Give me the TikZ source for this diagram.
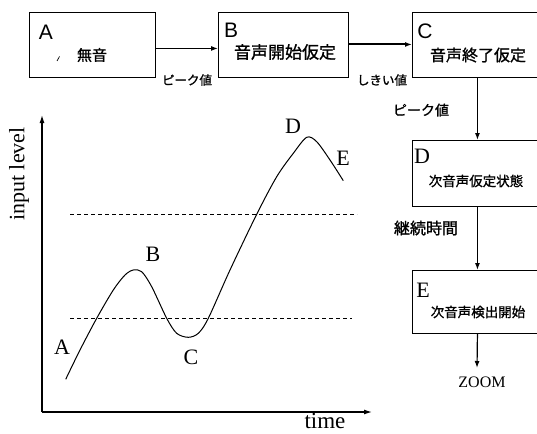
\documentclass[tikz,border=0pt]{standalone}
\usepackage{fontspec}
\setmainfont{Liberation Serif}
\newfontfamily\jp[FakeBold=1.2]{Noto Sans CJK JP}
\newfontfamily\hv{Liberation Sans}
\usetikzlibrary{arrows.meta}
\begin{document}
\begin{tikzpicture}[x=1pt,y=-1pt,
  box/.style={draw, line width=0.9pt, minimum height=65pt, inner sep=0pt, anchor=north west},
  conn/.style={line width=1.2pt, -{Latex[length=7pt,width=5pt]}},
  lbl/.style={inner sep=0pt},
  jpl/.style={inner sep=0pt, font=\jp\fontsize{12.5}{12.5}\selectfont},
  serl/.style={inner sep=0pt, font=\fontsize{22}{22}\selectfont},
  dash line/.style={line width=0.9pt, dash pattern=on 4pt off 3pt}]
\useasboundingbox (0,0) rectangle (537,433);
\clip (0,0) rectangle (537,433);
% boxes
\node[box, minimum width=126pt] (A) at (29,12) {};
\node[box, minimum width=130pt] (B) at (218,12) {};
\node[box, minimum width=130pt] (C) at (412,12) {};
\node[box, minimum width=130pt, minimum height=66pt] (D) at (412,140) {};
\node[box, minimum width=130pt, minimum height=63pt] (E) at (412,270) {};
% box texts
\node[lbl, font=\hv\fontsize{21}{21}\selectfont] (tA) at (46,32) {A};
\node[lbl, font=\jp\fontsize{15}{15}\selectfont] (jA) at (92,55) {無音};
\node[lbl, font=\hv\fontsize{21}{21}\selectfont] (tB) at (231,30) {B};
\node[lbl, font=\jp\fontsize{17}{17}\selectfont] (jB) at (285,52) {音声開始仮定};
\node[lbl, font=\hv\fontsize{21}{21}\selectfont] (tC) at (425,31) {C};
\node[lbl, font=\jp\fontsize{16}{16}\selectfont] (jC) at (478,55) {音声終了仮定};
\node[lbl, font=\fontsize{22}{22}\selectfont] (tD) at (422,156) {D};
\node[lbl, font=\jp\fontsize{13.5}{13.5}\selectfont] (jD) at (476,181) {次音声仮定状態};
\node[lbl, font=\fontsize{22}{22}\selectfont] (tE) at (423,290) {E};
\node[lbl, font=\jp\fontsize{13.5}{13.5}\selectfont] (jE) at (478,312) {次音声検出開始};
\draw[line width=0.7pt] (57,61) -- (59.5,56.5);
% connectors
\draw[conn] ([yshift=-3.5pt]A.east) -- ([yshift=-3.5pt]B.west);
\draw[line width=2pt, -{Latex[length=7pt,width=5pt]}] ([yshift=0.5pt]B.east) -- ([yshift=0.5pt]C.west);
\draw[conn] (C.south) -- (D.north);
\draw[conn] (D.south) -- (E.north);
\coordinate (Z) at (477,368);
\draw[conn] (E.south) -- (Z);
\node[lbl, font=\fontsize{16}{16}\selectfont, anchor=north] (zoom) at (482,377) {ZOOM};
% connector labels
\node[jpl] (l1) at (187,80) {ピーク値};
\node[jpl] (l2) at (382,80) {しきい値};
\node[jpl, font=\jp\fontsize{14}{14}\selectfont] (l3) at (421,110) {ピーク値};
\node[jpl, font=\jp\fontsize{16}{16}\selectfont] (l4) at (426,228) {継続時間};
% plot
\coordinate (O) at (42,412);
\coordinate (Ytop) at (42,115);
\coordinate (Xend) at (372,412);
\draw[line width=1.2pt, -{Latex[length=8pt,width=5pt]}] (O) -- (Ytop);
\draw[line width=1.2pt, -{Latex[length=8pt,width=5pt]}] (O) -- (Xend);
\node[serl, rotate=90] (yl) at (19,174) {input level};
\node[serl, font=\fontsize{23}{23}\selectfont, anchor=base] (xl) at (325,428) {time};
\draw[dash line] (70,214) -- (357,214);
\draw[dash line] (70,318) -- (352,318);
\draw[line width=1pt] plot[smooth, tension=0.5] coordinates {
 (65.7,379.3) (80,350) (96.7,318.3) (113.3,290) (125,275) (133.3,270) (141.7,271.7)
 (151.7,286.7) (166.7,318.3) (176.7,333.3) (188.3,337.3) (198.3,333.3) (208.3,318.3)
 (230,270) (256.7,214.3) (276.7,176.7) (293.3,153.3) (306.7,137.3) (316.7,141.7)
 (330,160) (343.3,180.7)};
\node[serl] (pA) at (62,347) {A};
\node[serl] (pB) at (153,254) {B};
\node[serl] (pC) at (191,357) {C};
\node[serl] (pD) at (293,126) {D};
\node[serl] (pE) at (343,158) {E};
\end{tikzpicture}
\end{document}
